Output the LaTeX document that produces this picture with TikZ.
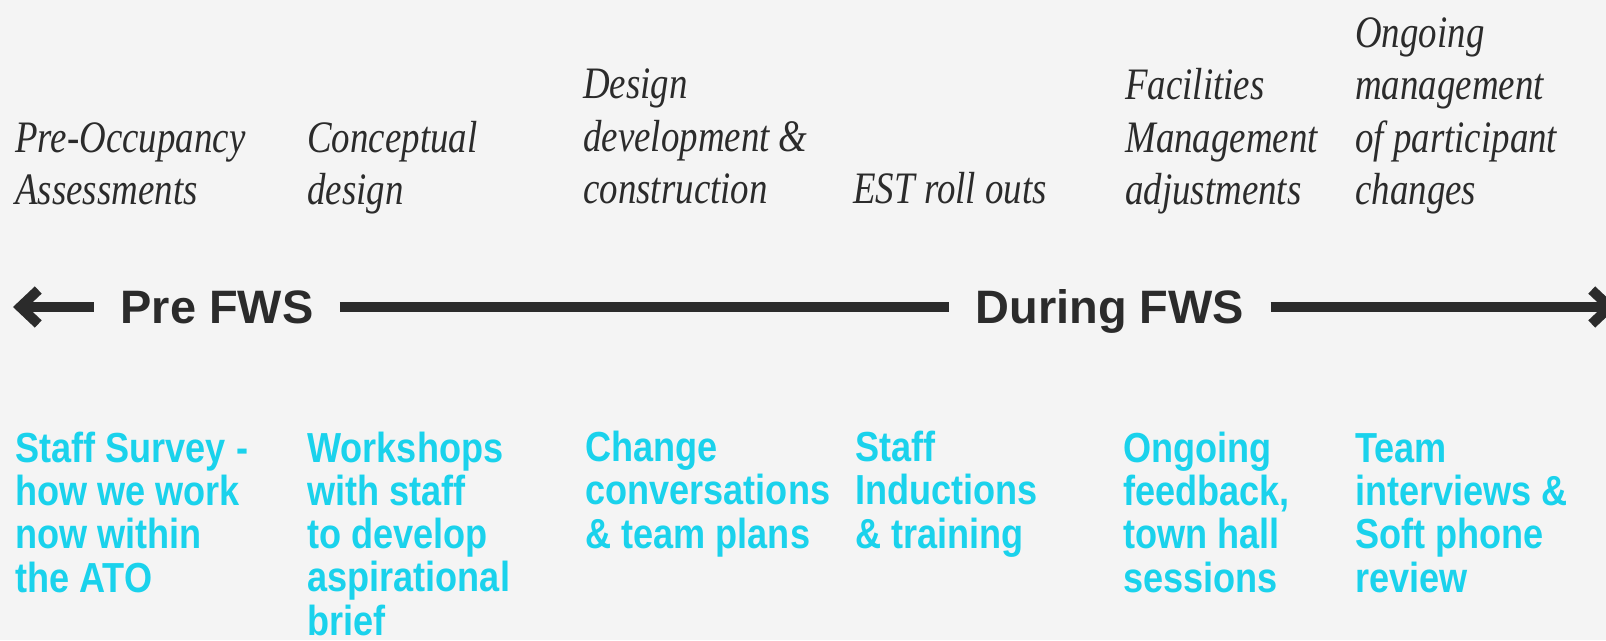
\documentclass[tikz,border=0pt]{standalone}
\usepackage{fontspec}
\usetikzlibrary{arrows.meta}
\newfontfamily\stagefont[FakeStretch=0.82]{Liberation Serif}
\newfontfamily\phasefont{Liberation Sans}
\newfontfamily\actfont[FakeStretch=0.86]{Liberation Sans}
\definecolor{bggrey}{HTML}{F4F4F4}
\definecolor{ink}{HTML}{2B2B2B}
\definecolor{actcyan}{HTML}{1AD2EC}
\begin{document}
\begin{tikzpicture}
        [
          x=0.02cm, y=-0.02cm,
          stage/.style={anchor=base west, inner sep=0pt, align=left, text=ink,
            font=\stagefont\itshape\fontsize{25.6pt}{29.6pt}\selectfont},
          phase/.style={inner ysep=0pt, inner xsep=0.52cm, text=ink,
            text height=19pt, text depth=0pt,
            font=\phasefont\bfseries\fontsize{26.7pt}{30pt}\selectfont},
          act/.style={anchor=base west, inner sep=0pt, align=left, text=actcyan,
            font=\actfont\bfseries\fontsize{23.9pt}{24.6pt}\selectfont},
          timeline/.style={ink, line width=0.2cm}
        ]
        \fill[bggrey] (0,0) rectangle (1606,640);
        \useasboundingbox (0,0) rectangle (1606,640);
        \clip (0,0) rectangle (1606,640);
        % stages (anchored at the last line)
        \node [stage] (occ) at (15,204) {Pre-Occupancy\\Assessments};
        \node [stage] (concept) at (307,204) {Conceptual\\design};
        \node [stage] (design) at (583,203) {Design\\development \&\\construction};
        \node [stage] (est) at (853,203) {EST roll outs};
        \node [stage] (facil) at (1125,204) {Facilities\\Management\\adjustments};
        \node [stage] (ongo) at (1355,204) {Ongoing\\management\\of participant\\changes};
        % timeline
        \coordinate (lft) at (13,307);
        \coordinate (rgt) at (1617,307);
        \node [phase] (pre) at (217,307) {Pre FWS};
        \node [phase] (during) at (1110,307) {During FWS};
        \draw [timeline, {Straight Barb[length=0.36cm, width=0.68cm]}-] (lft) -- (pre);
        \draw [timeline] (pre) -- (during);
        \draw [timeline, -{Straight Barb[length=0.36cm, width=0.68cm]}] (during) -- (rgt);
        % activities (anchored at the last line)
        \node [act] (survey) at (15,592) {Staff Survey -\\how we work\\now within\\the ATO};
        \node [act] (workshop) at (307,635) {Workshops\\with staff\\to develop\\aspirational\\brief};
        \node [act] (change) at (585,548) {Change\\conversations\\\& team plans};
        \node [act] (induct) at (855,548) {Staff\\Inductions\\\& training};
        \node [act] (feedback) at (1123,592) {Ongoing\\feedback,\\town hall\\sessions};
        \node [act] (team) at (1355,592) {Team\\interviews \&\\Soft phone\\review};
      \end{tikzpicture}
\end{document}
